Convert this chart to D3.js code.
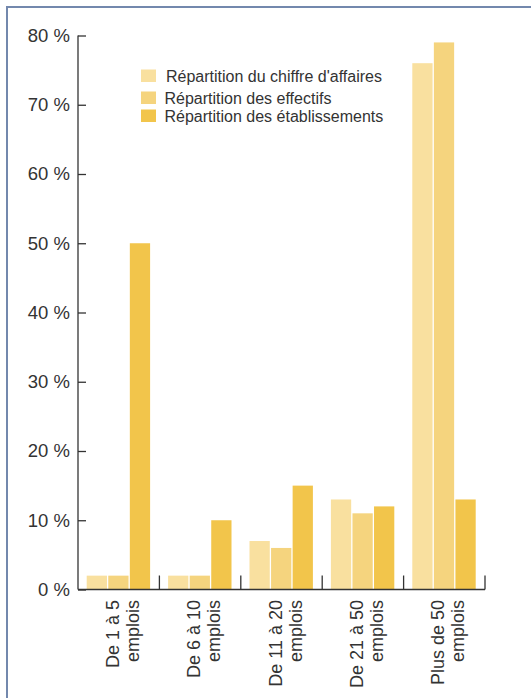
<!DOCTYPE html>
<html>
<head>
<meta charset="utf-8">
<script src="https://cdn.jsdelivr.net/npm/d3@7"></script>
<style>
  body { margin: 0; background: #fff; }
  svg { display: block; font-family: "Liberation Sans", Arial, sans-serif; }
</style>
</head>
<body>
<svg id="chart"></svg>
<script>
// data
const categories = [
  ["De 1 à 5", "emplois"],
  ["De 6 à 10", "emplois"],
  ["De 11 à 20", "emplois"],
  ["De 21 à 50", "emplois"],
  ["Plus de 50", "emplois"]
];
const seriesNames = [
  "Répartition du chiffre d'affaires",
  "Répartition des effectifs",
  "Répartition des établissements"
];
const chiffreAffaires = [2, 2, 7, 13, 76];
const effectifs = [2, 2, 6, 11, 79];
const etablissements = [50, 10, 15, 12, 13];
const yTicks = [0, 10, 20, 30, 40, 50, 60, 70, 80];

const colors = ["#f9e09f", "#f5d47e", "#f2c54b"];
const series = [chiffreAffaires, effectifs, etablissements];

const width = 531, height = 698;
const svg = d3.select("#chart").attr("width", width).attr("height", height);

// frame (left + top border)
svg.append("path")
  .attr("d", `M7,${height} V7 H${width}`)
  .attr("fill", "none")
  .attr("stroke", "#7388ad")
  .attr("stroke-width", 2);

const x0 = d3.scaleBand()
  .domain(categories.map((d, i) => i))
  .range([78, 485]);
const x1 = d3.scaleBand()
  .domain(d3.range(series.length))
  .range([8.7, x0.bandwidth() - 9.3])
  .paddingInner(0.06);
const y = d3.scaleLinear().domain([0, 80]).range([589.5, 35.5]);

// bars
const groups = svg.append("g")
  .selectAll("g")
  .data(categories)
  .join("g")
  .attr("transform", (d, i) => `translate(${x0(i)},0)`);

groups.selectAll("rect")
  .data((d, i) => series.map((s, k) => ({ k, v: s[i] })))
  .join("rect")
  .attr("x", (d) => x1(d.k))
  .attr("width", x1.bandwidth())
  .attr("y", (d) => y(d.v))
  .attr("height", (d) => y(0) - y(d.v))
  .attr("fill", (d) => colors[d.k]);

// y axis, ticks pointing inward
const yAxis = svg.append("g")
  .attr("transform", "translate(78,0)")
  .call(d3.axisRight(y).tickValues(yTicks).tickSize(8).tickFormat(""));
yAxis.select(".domain").remove();
yAxis.selectAll("line").attr("stroke", "#333").attr("stroke-width", 1.3);
svg.append("line")
  .attr("x1", 78).attr("x2", 78)
  .attr("y1", y(80)).attr("y2", y(0))
  .attr("stroke", "#333").attr("stroke-width", 1.3);

svg.append("g")
  .selectAll("text")
  .data(yTicks)
  .join("text")
  .attr("x", 70)
  .attr("y", (d) => y(d))
  .attr("dy", "0.35em")
  .attr("text-anchor", "end")
  .attr("font-size", 18.5)
  .attr("fill", "#333")
  .text((d) => `${d} %`);

// x axis with separator ticks going up
svg.append("line")
  .attr("x1", 78).attr("x2", 485)
  .attr("y1", y(0)).attr("y2", y(0))
  .attr("stroke", "#333").attr("stroke-width", 1.3);
svg.append("g")
  .selectAll("line")
  .data(categories.map((d, i) => i))
  .join("line")
  .attr("x1", (i) => x0(i) + x0.bandwidth())
  .attr("x2", (i) => x0(i) + x0.bandwidth())
  .attr("y1", y(0))
  .attr("y2", y(0) - 14)
  .attr("stroke", "#333")
  .attr("stroke-width", 1.3);

// category labels, rotated
const labels = svg.append("g")
  .selectAll("text")
  .data(categories)
  .join("text")
  .attr("transform", (d, i) => `translate(${x0(i) + x0.bandwidth() / 2},600) rotate(-90)`)
  .attr("text-anchor", "end")
  .attr("font-size", 18)
  .attr("fill", "#333");
labels.selectAll("tspan")
  .data((d) => d)
  .join("tspan")
  .attr("x", 0)
  .attr("y", (d, j) => j * 20)
  .text((d) => d);

// legend
const legendY = [69.5, 91.5, 109.5];
const legend = svg.append("g")
  .selectAll("g")
  .data(seriesNames)
  .join("g")
  .attr("transform", (d, i) => `translate(141,${legendY[i]})`);
legend.append("rect")
  .attr("width", 15)
  .attr("height", 12.5)
  .attr("fill", (d, i) => colors[i]);
legend.append("text")
  .attr("x", (d, i) => (i === 0 ? 25 : 23.5))
  .attr("y", 12)
  .attr("font-size", 16)
  .attr("fill", "#333")
  .text((d) => d);
</script>
</body>
</html>
